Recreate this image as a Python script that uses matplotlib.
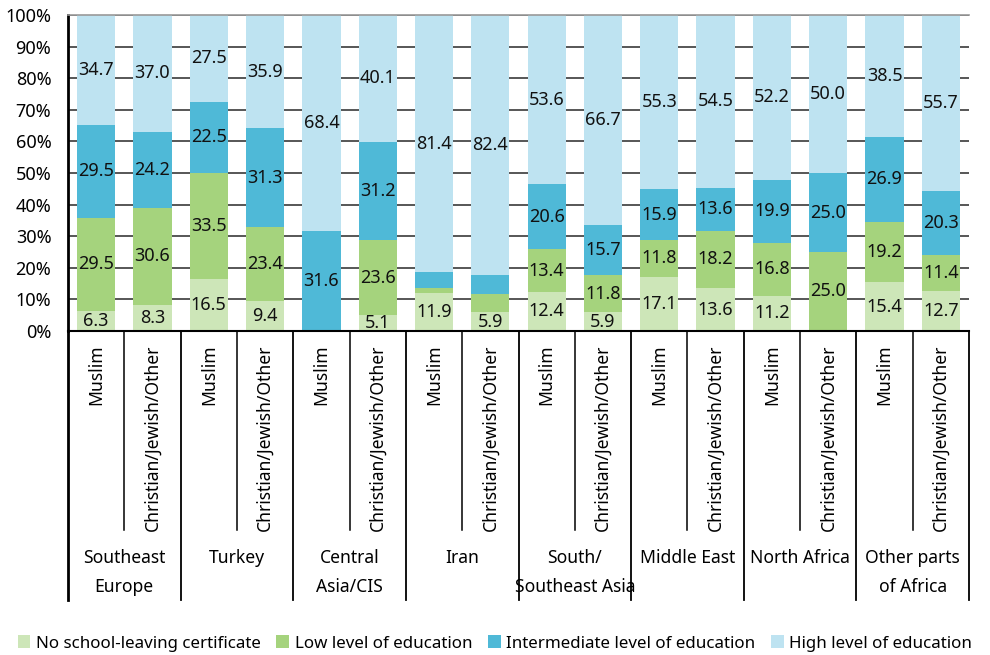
import matplotlib
matplotlib.use("Agg")
import matplotlib.pyplot as plt
from matplotlib.transforms import blended_transform_factory
import numpy as np

plt.rcParams['font.family'] = ['Noto Sans', 'DejaVu Sans']

regions = ["Southeast\nEurope", "Turkey", "Central\nAsia/CIS", "Iran",
           "South/\nSoutheast Asia", "Middle East", "North Africa",
           "Other parts\nof Africa"]
groups = ["Muslim", "Christian/Jewish/Other"]

series_names = ["No school-leaving certificate", "Low level of education",
                "Intermediate level of education", "High level of education"]

# one value per bar, ordered region by region (Muslim, Christian/Jewish/Other)
no_school = [6.3, 8.3, 16.5, 9.4, 0.0, 5.1, 11.9, 5.9,
             12.4, 5.9, 17.1, 13.6, 11.2, 0.0, 15.4, 12.7]
low_edu = [29.5, 30.6, 33.5, 23.4, 0.0, 23.6, 1.7, 5.9,
           13.4, 11.8, 11.8, 18.2, 16.8, 25.0, 19.2, 11.4]
mid_edu = [29.5, 24.2, 22.5, 31.3, 31.6, 31.2, 5.0, 5.8,
           20.6, 15.7, 15.9, 13.6, 19.9, 25.0, 26.9, 20.3]
high_edu = [34.7, 37.0, 27.5, 35.9, 68.4, 40.1, 81.4, 82.4,
            53.6, 66.7, 55.3, 54.5, 52.2, 50.0, 38.5, 55.7]

# segments whose value is not printed on the bar
unlabeled = {(1, 6), (2, 6), (1, 7), (2, 7)}

colors = ["#cde6b8", "#a5d37d", "#4fb9d7", "#bee3f1"]

fig = plt.figure(figsize=(9.9, 6.55), dpi=100)
ax = fig.add_axes([68 / 990, 1 - 331 / 655, (969 - 68) / 990, (331 - 15) / 655])

n = len(no_school)
x = np.arange(n)
width = 0.68
bottom = np.zeros(n)
data = [no_school, low_edu, mid_edu, high_edu]
for si, (vals, c, name) in enumerate(zip(data, colors, series_names)):
    vals = np.array(vals)
    ax.bar(x, vals, width, bottom=bottom, color=c, label=name, zorder=2)
    for i, v in enumerate(vals):
        if v > 0 and (si, i) not in unlabeled:
            ax.text(x[i], bottom[i] + v / 2, f"{v:.1f}", ha="center",
                    va="center", fontsize=13, color="#111111", zorder=3)
    bottom += vals

ax.set_xlim(-0.5, n - 0.5)
ax.set_ylim(0, 100)
ax.set_yticks(np.arange(0, 101, 10))
ax.set_yticklabels([f"{t}%" for t in range(0, 101, 10)], fontsize=13)
ax.tick_params(axis="y", length=0, pad=12)
ax.set_xticks([])
ax.yaxis.grid(True, color="#3a3a3a", linewidth=1.2, zorder=0)
ax.set_axisbelow(True)

ax.spines["right"].set_visible(False)
ax.spines["top"].set_color("#999999")
ax.spines["top"].set_linewidth(1.2)
ax.spines["left"].set_linewidth(2)
ax.spines["left"].set_color("black")
ax.spines["bottom"].set_linewidth(1.5)
ax.spines["bottom"].set_color("black")

trans = blended_transform_factory(ax.transData, ax.transAxes)
inner_bottom = -0.63
outer_bottom = -0.851
for k in range(n + 1):
    xb = k - 0.5
    if k % 2 == 0:
        lw = 2 if k == 0 else 1.3
        ax.plot([xb, xb], [0, outer_bottom], color="black", lw=lw,
                transform=trans, clip_on=False)
    else:
        ax.plot([xb, xb], [0, inner_bottom], color="black", lw=1.1,
                transform=trans, clip_on=False)

for i in range(n):
    ax.text(x[i], -0.042, groups[i % 2], rotation=90, ha="center", va="top",
            fontsize=12.6, transform=trans)

for r, name in enumerate(regions):
    ax.text(2 * r + 0.5, -0.69, name, ha="center", va="top",
            fontsize=12.6, linespacing=1.75, transform=trans)

fig.legend(loc="lower center", ncol=4, bbox_to_anchor=(0.5, -0.018),
           frameon=False, fontsize=12.2, handlelength=0.75, handleheight=0.75,
           handletextpad=0.35, columnspacing=0.9)

fig.savefig("out.png", dpi=100)
